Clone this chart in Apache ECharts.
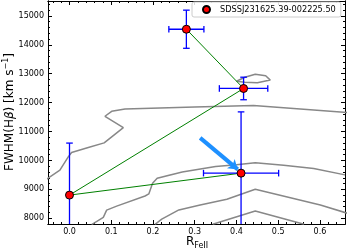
<!DOCTYPE html>
<html><head><meta charset="utf-8">
<script src="https://cdn.jsdelivr.net/npm/echarts@6/dist/echarts.min.js"></script>
<style>html,body{margin:0;padding:0;background:#fff}#c{width:349px;height:251px}</style>
</head><body><div id="c"></div>
<script>
// ---- data ----
const pointX = [0.0, 0.28, 0.417, 0.411];
const pointY = [8800, 14540, 12490, 9560];
const errX = [0, 0.042, 0.058, 0.09];
const errY = [1800, 660, 390, 2120];
const links = [[0, 2], [0, 3], [1, 2]];
const legendName = 'SDSSJ231625.39-002225.50';

const contourOuter = [[-0.06, 9300], [-0.023, 9666], [-0.003, 10124], [0.005, 10276], [0.045, 10448], [0.083, 10607], [0.129, 11138], [0.085, 11528], [0.101, 11700], [0.133, 11779], [0.30, 11850], [0.441, 11897], [0.665, 11660]];
const contourSmall = [[0.40, 12740], [0.42, 12880], [0.445, 12985], [0.47, 12930], [0.481, 12780], [0.45, 12685], [0.42, 12705], [0.40, 12740]];
const contourMid = [[0.053, 7780], [0.081, 8030], [0.089, 8280], [0.113, 8420], [0.181, 8770], [0.19, 8840], [0.199, 9210], [0.21, 9380], [0.27, 9600], [0.35, 9790], [0.40, 9850], [0.445, 9920], [0.513, 9835], [0.585, 9720], [0.66, 9500]];
const contourInner = [[0.205, 7790], [0.221, 7966], [0.262, 8286], [0.313, 8459], [0.377, 8655], [0.445, 9000], [0.601, 8459], [0.665, 8175]];
const contourCore = [[0.343, 7790], [0.445, 8252], [0.562, 7790]];

const arrowFrom = [0.313, 10780];
const arrowTo = [0.403, 9690];

const xMajor = [0.0, 0.1, 0.2, 0.3, 0.4, 0.5, 0.6];
const yMajor = [8000, 9000, 10000, 11000, 12000, 13000, 14000, 15000];

// ---- layout ----
const xMin = -0.0515, xMax = 0.66, yMin = 7800, yMax = 15517;
const font = 'DejaVu Sans';

const xMinor = [], yMinor = [];
for (let i = -2; i <= 33; i++) { const v = +(i * 0.02).toFixed(2); if (i % 5 !== 0 && v > xMin && v < xMax) xMinor.push(v); }
for (let v = 7800; v <= 15400; v += 200) { if (v % 1000 !== 0) yMinor.push(v); }

function ax(pos, vals, len, labels, isX) {
  return {
    type: 'value', position: pos, min: isX ? xMin : yMin, max: isX ? xMax : yMax,
    splitLine: { show: false },
    axisLine: { show: true, onZero: false, lineStyle: { color: '#000', width: 1 } },
    axisTick: { show: true, inside: true, length: len, customValues: vals, lineStyle: { color: '#000', width: 1 } },
    axisLabel: labels ? {
      show: true, customValues: vals, color: '#000', fontFamily: font, fontSize: 8,
      margin: 4,
      formatter: v => isX ? v.toFixed(1) : String(Math.round(v))
    } : { show: false }
  };
}

const series = [];
[contourOuter, contourSmall, contourMid, contourInner, contourCore].forEach(c => {
  series.push({ type: 'line', data: c, symbol: 'none', silent: true, z: 2,
    lineStyle: { color: '#888888', width: 1.5 } });
});
links.forEach(l => {
  series.push({ type: 'line', symbol: 'none', silent: true, z: 3,
    data: [[pointX[l[0]], pointY[l[0]]], [pointX[l[1]], pointY[l[1]]]],
    lineStyle: { color: '#008000', width: 1 } });
});
series.push({
  type: 'custom', z: 4, silent: true,
  data: pointX.map((x, i) => [x, pointY[i], errX[i], errY[i]]),
  renderItem: function (params, api) {
    const x = api.value(0), y = api.value(1), ex = api.value(2), ey = api.value(3);
    const st = { stroke: '#0000ff', lineWidth: 1.3 };
    const cap = 3.3;
    const ch = [];
    const yTop = Math.min(y + ey, yMax), yBot = Math.max(y - ey, yMin);
    const pt = api.coord([x, yTop]), pb = api.coord([x, yBot]);
    ch.push({ type: 'line', shape: { x1: pt[0], y1: pt[1], x2: pb[0], y2: pb[1] }, style: st });
    if (y + ey <= yMax) ch.push({ type: 'line', shape: { x1: pt[0] - cap, y1: pt[1], x2: pt[0] + cap, y2: pt[1] }, style: st });
    if (y - ey >= yMin) ch.push({ type: 'line', shape: { x1: pb[0] - cap, y1: pb[1], x2: pb[0] + cap, y2: pb[1] }, style: st });
    if (ex > 0) {
      const pl = api.coord([x - ex, y]), pr = api.coord([x + ex, y]);
      ch.push({ type: 'line', shape: { x1: pl[0], y1: pl[1], x2: pr[0], y2: pr[1] }, style: st });
      ch.push({ type: 'line', shape: { x1: pl[0], y1: pl[1] - cap, x2: pl[0], y2: pl[1] + cap }, style: st });
      ch.push({ type: 'line', shape: { x1: pr[0], y1: pr[1] - cap, x2: pr[0], y2: pr[1] + cap }, style: st });
    }
    return { type: 'group', children: ch };
  }
});
series.push({
  type: 'scatter', name: legendName, z: 5, silent: true,
  data: pointX.map((x, i) => [x, pointY[i]]),
  symbol: 'circle', symbolSize: 8,
  itemStyle: { color: '#ff0000', borderColor: '#000', borderWidth: 1, opacity: 1 }
});
series.push({
  type: 'line', data: [], z: 6, silent: true,
  markLine: {
    silent: true, animation: false, symbol: ['none', 'arrow'], symbolSize: 9,
    label: { show: false },
    lineStyle: { color: '#1e90ff', width: 4, type: 'solid', opacity: 1 },
    itemStyle: { color: '#1e90ff' },
    data: [[{ coord: arrowFrom }, { coord: arrowTo }]]
  }
});

const option = {
  animation: false,
  backgroundColor: '#fff',
  grid: { left: 48, right: 4, top: 1, bottom: 27, containLabel: false },
  xAxis: [ax('bottom', xMajor, 4, true, true), ax('bottom', xMinor, 2, false, true),
           ax('top', xMajor, 4, false, true), ax('top', xMinor, 2, false, true)],
  yAxis: [ax('left', yMajor, 4, true, false), ax('left', yMinor, 2, false, false),
          ax('right', yMajor, 4, false, false), ax('right', yMinor, 2, false, false)],
  legend: {
    data: [legendName], left: 192, top: 2, orient: 'horizontal',
    icon: 'circle', itemWidth: 17, itemHeight: 7,
    padding: [3, 5, 3, 10], borderColor: '#cccccc', borderWidth: 1, borderRadius: 2,
    backgroundColor: 'rgba(255,255,255,0.85)',
    textStyle: { fontFamily: font, fontSize: 8.2, color: '#000' },
    selectedMode: false
  },
  graphic: [
    { type: 'text', x: 9, y: 112, rotation: Math.PI / 2,
      style: { text: '{n|FWHM(H}{g|β}{n|) [km s}{s|−1}{n|]}', align: 'center', verticalAlign: 'middle',
        rich: { n: { fontFamily: font, fontSize: 12, fill: '#000', lineHeight: 14, verticalAlign: 'bottom' },
                g: { fontFamily: font, fontSize: 12, fontStyle: 'italic', fill: '#000', lineHeight: 14, verticalAlign: 'bottom' },
                s: { fontFamily: font, fontSize: 8, fill: '#000', lineHeight: 14, verticalAlign: 'top' } } } },
    { type: 'text', x: 197, y: 243,
      style: { text: '{r|R}{s|FeII}', align: 'center', verticalAlign: 'middle',
        rich: { r: { fontFamily: font, fontSize: 12, fill: '#000', lineHeight: 14, verticalAlign: 'top' },
                s: { fontFamily: font, fontSize: 8, fill: '#000', lineHeight: 14, verticalAlign: 'bottom' } } } }
  ],
  series: series
};
series.forEach(s => { s.xAxisIndex = 0; s.yAxisIndex = 0; });
const chart = echarts.init(document.getElementById('c'), null, { renderer: 'canvas' });
chart.setOption(option);
</script></body></html>
